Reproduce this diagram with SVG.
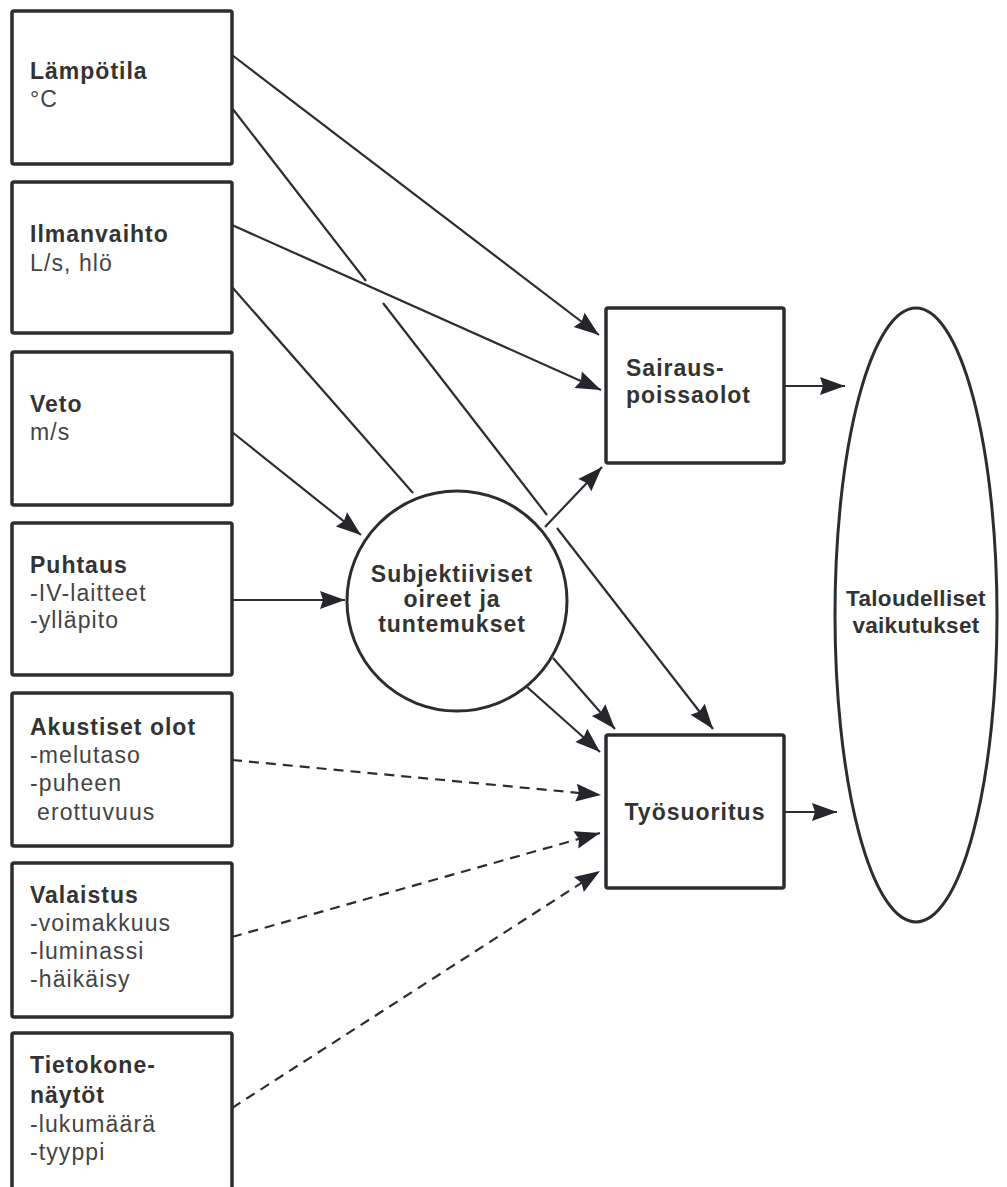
<svg xmlns="http://www.w3.org/2000/svg" width="1007" height="1187" viewBox="0 0 1007 1187">
<style>
.box{fill:#fff;stroke:#2b2d31;stroke-width:3.5}
.shape{fill:#fff;stroke:#2b2d31;stroke-width:3}
.b{font-family:"Liberation Sans",Arial,sans-serif;font-weight:bold;font-size:23px;letter-spacing:1px;fill:#333}
.r{font-family:"Liberation Sans",Arial,sans-serif;font-size:23px;letter-spacing:1.1px;fill:#444}
.c{text-anchor:middle}
.t{font-size:22.5px;letter-spacing:0.3px}
.ln{fill:none;stroke:#2b2d31;stroke-width:2.2}
.ds{fill:none;stroke:#2b2d31;stroke-width:2.2;stroke-dasharray:10 7}
</style>
<defs>
<marker id="ah" markerUnits="userSpaceOnUse" markerWidth="30" markerHeight="22" refX="25" refY="9" orient="auto" overflow="visible">
<path d="M0,0 L25,9 L0,18 L3,9 Z" fill="#24262b"/>
</marker>
</defs>
<rect width="1007" height="1187" fill="#fff"/>
<g id="connectors">
<line class="ln" x1="232" y1="55" x2="599" y2="335" marker-end="url(#ah)"/>
<line class="ln" x1="232" y1="108" x2="366" y2="281"/>
<line class="ln" x1="383" y1="303" x2="547" y2="515"/>
<line class="ln" x1="557" y1="528" x2="713" y2="729" marker-end="url(#ah)"/>
<line class="ln" x1="232" y1="225" x2="601" y2="390" marker-end="url(#ah)"/>
<line class="ln" x1="232" y1="287" x2="413" y2="493"/>
<line class="ln" x1="232" y1="432" x2="361" y2="535" marker-end="url(#ah)"/>
<line class="ln" x1="232" y1="600" x2="345" y2="600" marker-end="url(#ah)"/>
<line class="ln" x1="545" y1="527" x2="602" y2="467" marker-end="url(#ah)"/>
<line class="ln" x1="553" y1="658" x2="615" y2="729" marker-end="url(#ah)"/>
<line class="ln" x1="527" y1="687" x2="600" y2="752" marker-end="url(#ah)"/>
<line class="ds" x1="232" y1="760" x2="601" y2="795" marker-end="url(#ah)"/>
<line class="ds" x1="232" y1="937" x2="600" y2="833" marker-end="url(#ah)"/>
<line class="ds" x1="232" y1="1108" x2="600" y2="871" marker-end="url(#ah)"/>
<line class="ln" x1="784" y1="386" x2="845" y2="386" marker-end="url(#ah)"/>
<line class="ln" x1="784" y1="812" x2="837" y2="812" marker-end="url(#ah)"/>
</g>
<g id="lampotila">
<rect class="box" x="12" y="11" width="220" height="153" rx="2"/>
<text class="b" x="30" y="79">Lämpötila</text>
<text class="r" x="30" y="107">°C</text>
</g>
<g id="ilmanvaihto">
<rect class="box" x="12" y="182" width="220" height="151" rx="2"/>
<text class="b" x="30" y="242">Ilmanvaihto</text>
<text class="r" x="30" y="271">L/s, hlö</text>
</g>
<g id="veto">
<rect class="box" x="12" y="352" width="220" height="153" rx="2"/>
<text class="b" x="30" y="412">Veto</text>
<text class="r" x="30" y="440">m/s</text>
</g>
<g id="puhtaus">
<rect class="box" x="12" y="523" width="220" height="152" rx="2"/>
<text class="b" x="30" y="573">Puhtaus</text>
<text class="r" x="30" y="601">-IV-laitteet</text>
<text class="r" x="30" y="628">-ylläpito</text>
</g>
<g id="akustiset">
<rect class="box" x="12" y="693" width="220" height="153" rx="2"/>
<text class="b" x="30" y="735">Akustiset olot</text>
<text class="r" x="30" y="763">-melutaso</text>
<text class="r" x="30" y="791">-puheen</text>
<text class="r" x="37" y="820">erottuvuus</text>
</g>
<g id="valaistus">
<rect class="box" x="12" y="863" width="220" height="154" rx="2"/>
<text class="b" x="30" y="903">Valaistus</text>
<text class="r" x="30" y="931">-voimakkuus</text>
<text class="r" x="30" y="959">-luminassi</text>
<text class="r" x="30" y="987">-häikäisy</text>
</g>
<g id="tietokone">
<rect class="box" x="12" y="1033" width="220" height="170" rx="2"/>
<text class="b" x="30" y="1073">Tietokone-</text>
<text class="b" x="30" y="1103">näytöt</text>
<text class="r" x="30" y="1132">-lukumäärä</text>
<text class="r" x="30" y="1160">-tyyppi</text>
</g>
<g id="subjektiiviset">
<circle class="shape" cx="457" cy="601" r="110"/>
<text class="b c" x="452" y="582">Subjektiiviset</text>
<text class="b c" x="452" y="607">oireet ja</text>
<text class="b c" x="452" y="632">tuntemukset</text>
</g>
<g id="sairaus">
<rect class="box" x="606" y="308" width="178" height="155" rx="2"/>
<text class="b" x="626" y="376">Sairaus-</text>
<text class="b" x="626" y="403">poissaolot</text>
</g>
<g id="tyosuoritus">
<rect class="box" x="606" y="735" width="178" height="153" rx="2"/>
<text class="b c" x="695" y="820">Työsuoritus</text>
</g>
<g id="taloudelliset">
<ellipse class="shape" cx="916" cy="615" rx="81" ry="307"/>
<text class="b c t" x="916" y="606">Taloudelliset</text>
<text class="b c t" x="916" y="633">vaikutukset</text>
</g>
</svg>
